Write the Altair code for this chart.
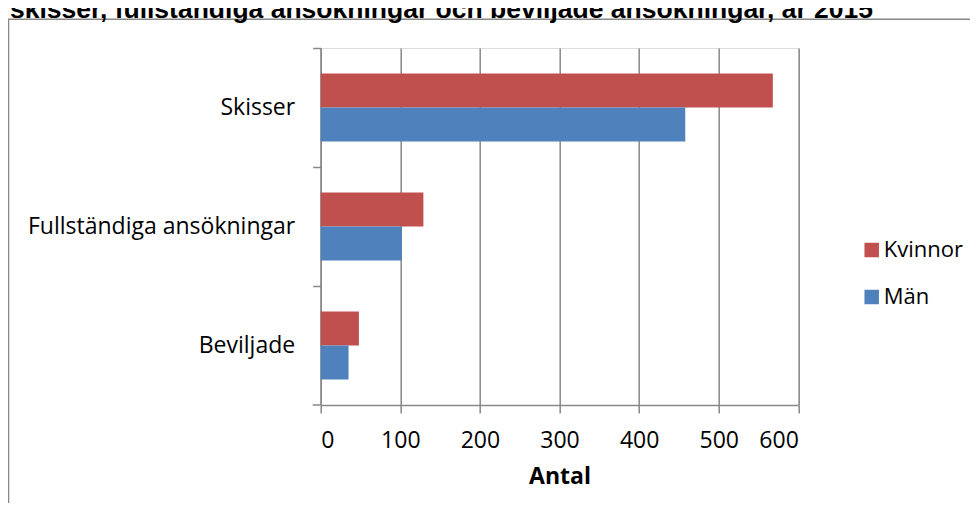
import altair as alt
import pandas as pd

# ---- data ----
categories = ["Skisser", "Fullständiga ansökningar", "Beviljade"]
kvinnor = [568, 129, 48]
man = [458, 102, 35]
series = ["Kvinnor", "Män"]
colors = ["#C0504D", "#4F81BD"]
x_ticks = [0, 100, 200, 300, 400, 500, 600]
title_text = "skisser, fullständiga ansökningar och beviljade ansökningar, år 2015"

rows = []
for c, k, m in zip(categories, kvinnor, man):
    rows.append({"kategori": c, "kon": "Kvinnor", "antal": k})
    rows.append({"kategori": c, "kon": "Män", "antal": m})
df = pd.DataFrame(rows)

W, H = 477.6, 357
GRAY = "#888888"
FONT = "Open Sans"
FS = 23

y_axis = alt.Axis(
    title=None, bandPosition=0, tickSize=8, tickColor=GRAY, tickWidth=1.5,
    domainColor=GRAY, domainWidth=1.5, labelFont=FONT, labelFontSize=FS,
    labelColor="black", labelPadding=18, grid=False, labelLimit=400,
)
y_scale = alt.Scale(paddingInner=0, paddingOuter=0)

bars = alt.Chart(df).mark_bar().encode(
    x=alt.X(
        "antal:Q",
        scale=alt.Scale(domain=[0, 600], nice=False),
        axis=alt.Axis(
            values=x_ticks, title="Antal", grid=True, gridColor=GRAY, gridWidth=1.5,
            domainColor=GRAY, domainWidth=1.5, tickColor=GRAY, tickWidth=1.5, tickSize=8,
            labelFont=FONT, labelFontSize=FS, labelColor="black", labelPadding=16.5,
            titleFont=FONT, titleFontSize=FS, titleFontWeight="bold", titleColor="black",
            titlePadding=13,
        ),
    ),
    y=alt.Y("kategori:N", sort=categories, scale=y_scale, axis=y_axis),
    yOffset=alt.YOffset("kon:N", sort=series, scale=alt.Scale(paddingInner=0, paddingOuter=0.75)),
    color=alt.Color(
        "kon:N", sort=series,
        scale=alt.Scale(domain=series, range=colors),
        legend=alt.Legend(
            title=None, orient="none", legendX=540, legendY=191, direction="vertical",
            padding=0, symbolType="square", symbolSize=210, symbolStrokeWidth=0,
            labelFont=FONT, labelFontSize=22, labelColor="black", labelOffset=1,
            rowPadding=25, labelLimit=200,
        ),
    ),
)

frame = alt.Chart(pd.DataFrame({"a": [0]})).mark_rect(
    fill="transparent", stroke=GRAY, strokeWidth=1.5
).encode(
    x=alt.value(-312.2), x2=alt.value(700), y=alt.value(-28.7), y2=alt.value(600)
)

bottom_tick = alt.Chart(pd.DataFrame({"kategori": [categories[-1]]})).mark_rule(
    color=GRAY, strokeWidth=1.5
).encode(
    x=alt.value(-8), x2=alt.value(0),
    y=alt.Y("kategori:N", sort=categories, scale=y_scale, axis=y_axis, bandPosition=1),
)

chart = alt.layer(frame, bars, bottom_tick).properties(
    width=W, height=H,
    title=alt.TitleParams(
        text=title_text, anchor="start", frame="group", font="Liberation Sans",
        fontSize=26.5, fontWeight="bold", color="black", baseline="alphabetic",
        offset=2.3, dx=-310.7, dy=28,
    ),
    autosize=alt.AutoSizeParams(type="none"),
    padding={"left": 312.7, "top": 40, "right": 171.7, "bottom": 98},
).configure_view(stroke=None).configure(background="white")

chart.save("out.html", embed_options={"renderer": "svg", "actions": False})
